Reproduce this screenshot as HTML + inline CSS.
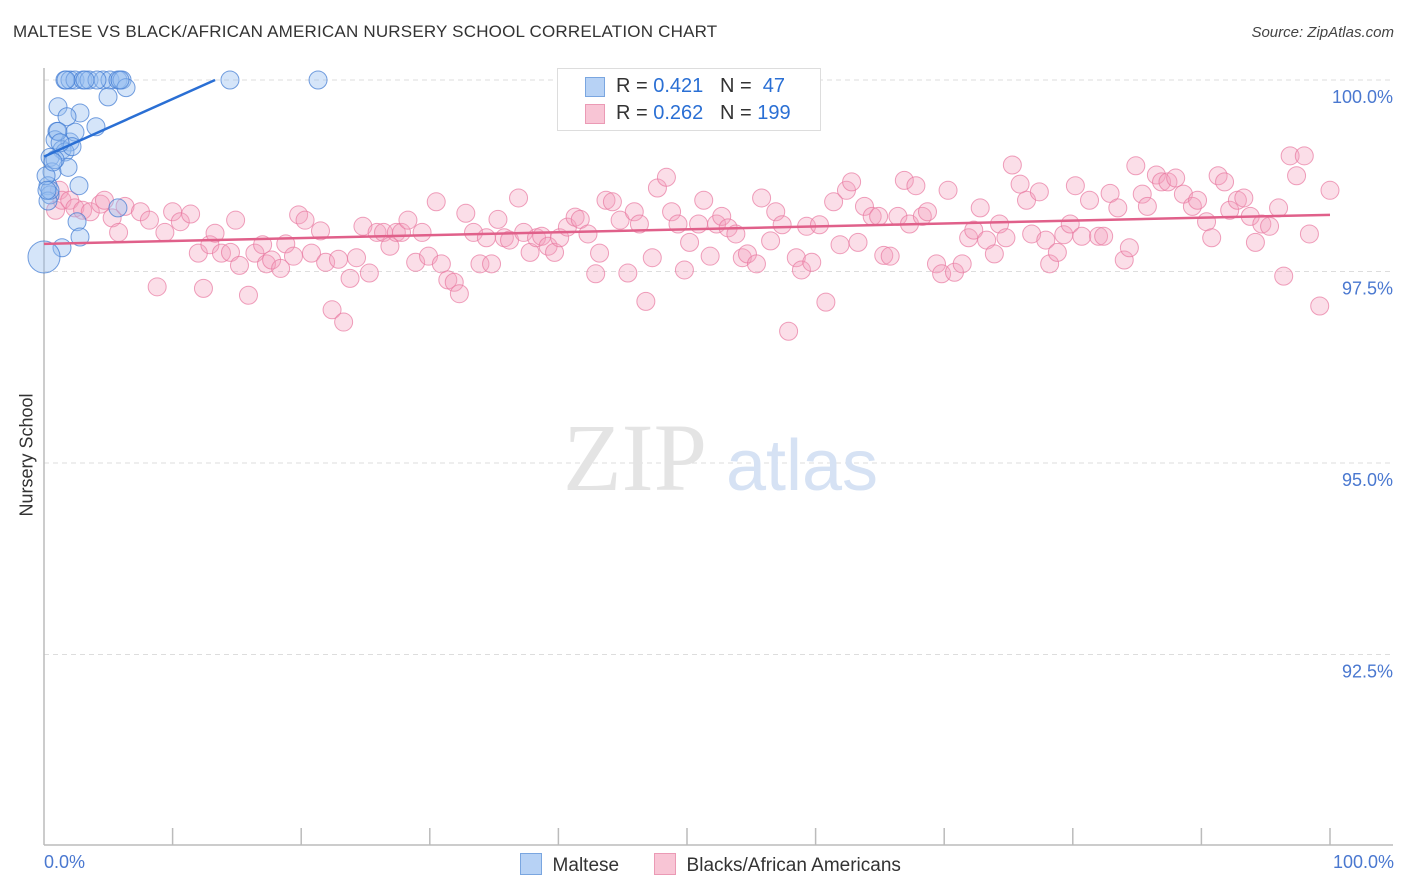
<!DOCTYPE html>
<html><head><meta charset="utf-8"><style>
body{margin:0;background:#fff;font-family:"Liberation Sans",sans-serif;}
#wrap{position:relative;width:1406px;height:892px;overflow:hidden;}
.t{position:absolute;white-space:nowrap;}
</style></head><body>
<div id="wrap">
<div class="t" style="left:13px;top:22px;font-size:17px;color:#333;letter-spacing:0.2px">MALTESE VS BLACK/AFRICAN AMERICAN NURSERY SCHOOL CORRELATION CHART</div>
<div class="t" style="right:12px;top:24px;font-size:15px;color:#444;font-style:italic">Source: ZipAtlas.com</div>
<svg id="svg" width="1406" height="892" style="position:absolute;left:0;top:0"></svg>
</div>
<script>
const blueX=[1.63,2.02,2.41,3.03,3.50,4.59,5.13,5.75,6.07,6.38,4.98,14.46,21.31,1.09,2.80,1.79,4.04,1.01,0.86,2.02,1.40,1.63,0.47,1.87,0.62,0.31,2.72,0.47,0.31,5.75,2.57,2.80,1.40,0.0,0.47,1.09,2.41,0.86,2.18,1.25,0.16,0.23,5.91,1.71,4.12,3.19,0.70];
const blueY=[100,100,100,100,100,100,100,100,100,99.90,99.78,100,100,99.65,99.57,99.52,99.39,99.33,99.22,99.19,99.09,99.06,98.99,98.86,98.80,98.62,98.62,98.50,98.42,98.33,98.15,97.95,97.81,97.69,98.56,99.33,99.32,98.96,99.13,99.18,98.75,98.56,100,100,100,100,98.93];
const blueR=[9,9,9,9,9,9,9,9,9,9,9,9,9,9,9,9,9,9,9,9,9,9,9,9,9,9,9,9,9,9,9,9,9,16,9,9,9,9,9,9,9,9,9,9,9,9,9];
const pinkX=[0.9,1.2,1.4,2.0,2.4,3.0,3.6,4.4,4.7,5.3,5.8,6.3,7.5,8.2,8.8,9.4,10.0,10.6,11.4,12.0,12.4,12.9,13.3,13.8,14.5,14.9,15.2,15.9,16.4,17.0,17.3,17.7,18.4,18.8,19.4,19.8,20.3,20.8,21.5,21.9,22.4,22.9,23.3,23.8,24.3,24.8,25.3,25.9,26.4,26.9,27.4,27.8,28.3,28.9,29.4,29.9,30.5,30.9,31.4,31.9,32.3,32.8,33.4,33.9,34.4,34.8,35.3,35.8,36.2,36.9,37.3,37.8,38.3,38.7,39.2,39.7,40.1,40.7,41.3,41.7,42.3,42.9,43.2,43.7,44.2,44.8,45.4,45.9,46.3,46.8,47.3,47.7,48.4,48.8,49.3,49.8,50.2,50.9,51.3,51.8,52.3,52.7,53.2,53.8,54.3,54.7,55.4,55.8,56.5,56.9,57.4,57.9,58.5,58.9,59.3,59.7,60.3,60.8,61.4,61.9,62.4,62.8,63.3,63.8,64.4,64.9,65.3,65.8,66.4,66.9,67.3,67.8,68.3,68.7,69.4,69.8,70.3,70.8,71.4,71.9,72.3,72.8,73.3,73.9,74.3,74.8,75.3,75.9,76.4,76.8,77.4,77.9,78.2,78.8,79.3,79.8,80.2,80.7,81.3,82.0,82.4,82.9,83.5,84.0,84.4,84.9,85.4,85.8,86.5,86.9,87.4,88.0,88.6,89.3,89.7,90.4,90.8,91.3,91.8,92.2,92.8,93.3,93.8,94.2,94.7,95.3,96.0,96.4,96.9,97.4,98.0,98.4,99.2,100.0];
const pinkY=[98.30,98.56,98.43,98.43,98.33,98.30,98.28,98.38,98.43,98.20,98.01,98.35,98.28,98.17,97.30,98.01,98.28,98.15,98.25,97.74,97.28,97.85,98.00,97.74,97.75,98.17,97.58,97.19,97.74,97.85,97.60,97.65,97.54,97.86,97.70,98.24,98.17,97.74,98.03,97.62,97.00,97.66,96.84,97.41,97.68,98.09,97.48,98.01,98.01,97.83,98.01,98.01,98.17,97.62,98.01,97.70,98.41,97.60,97.39,97.36,97.21,98.26,98.01,97.60,97.94,97.60,98.18,97.94,97.91,98.46,98.01,97.75,97.94,97.96,97.83,97.75,97.94,98.08,98.21,98.18,97.99,97.47,97.74,98.43,98.41,98.17,97.48,98.28,98.12,97.11,97.68,98.59,98.73,98.28,98.12,97.52,97.88,98.12,98.43,97.70,98.12,98.22,98.07,97.99,97.68,97.73,97.60,98.46,97.90,98.28,98.11,96.72,97.68,97.52,98.09,97.62,98.11,97.10,98.41,97.85,98.56,98.67,97.88,98.35,98.22,98.22,97.71,97.70,98.22,98.69,98.12,98.62,98.22,98.28,97.60,97.47,98.56,97.49,97.60,97.94,98.04,98.33,97.91,97.73,98.12,97.94,98.89,98.64,98.43,97.99,98.54,97.91,97.60,97.75,97.98,98.12,98.62,97.96,98.43,97.96,97.96,98.52,98.33,97.65,97.81,98.88,98.51,98.35,98.76,98.67,98.67,98.72,98.51,98.35,98.43,98.15,97.94,98.75,98.67,98.30,98.43,98.46,98.22,97.88,98.12,98.09,98.33,97.44,99.01,98.75,99.01,97.99,97.05,98.56];
const blueTrendX=[0,13.3];
const blueTrendY=[99.0,100.0];
const pinkTrendX=[0,100];
const pinkTrendY=[97.86,98.24];
const yTicks=[100,97.5,95,92.5];
const yTickLabels=["100.0%","97.5%","95.0%","92.5%"];

const NS="http://www.w3.org/2000/svg";
const svg=document.getElementById('svg');
const X0=44,X1=1330,YTOP=80,PXPER=76.6;
function sx(v){return X0+(v/100)*(X1-X0);}
function sy(v){return YTOP+(100-v)*PXPER;}
function mk(tag,attrs){const e=document.createElementNS(NS,tag);for(const k in attrs)e.setAttribute(k,attrs[k]);svg.appendChild(e);return e;}

// gridlines & y labels
yTicks.forEach((t,i)=>{
  const g=mk('line',{x1:X0,x2:1393,y1:sy(t),y2:sy(t),stroke:'#ddd','stroke-dasharray':'5,4','stroke-width':1});
  
  
  const tx=mk('text',{x:1393,y:sy(t)+23,'text-anchor':'end','font-size':18,fill:'#4a78d0','font-family':'Liberation Sans, sans-serif'});
  tx.textContent=yTickLabels[i];
  
  
});
// axes
const ax=mk('line',{x1:X0,x2:X0,y1:68,y2:845,stroke:'#bbb','stroke-width':1.5});


const bx=mk('line',{x1:X0,x2:1393,y1:845,y2:845,stroke:'#bbb','stroke-width':1.5});


for(let i=1;i<=10;i++){
  const tk=mk('line',{x1:sx(i*10),x2:sx(i*10),y1:828,y2:845,stroke:'#bbb','stroke-width':1.5});
  
  
}
// watermark
const w1=mk('text',{x:635,y:490,'text-anchor':'middle','font-size':96,fill:'#e4e4e4','font-family':'Liberation Serif, serif'});
w1.textContent='ZIP';


const w2=mk('text',{x:802,y:490,'text-anchor':'middle','font-size':72,fill:'#d6e2f4','font-family':'Liberation Sans, sans-serif'});
w2.textContent='atlas';



// pink points
pinkX.forEach((x,i)=>{
  const c=mk('circle',{cx:sx(x),cy:sy(pinkY[i]),r:9,fill:'rgba(244,160,190,0.35)',stroke:'rgba(232,120,160,0.7)','stroke-width':1});
  
  
});
// blue points
blueX.forEach((x,i)=>{
  const c=mk('circle',{cx:sx(x),cy:sy(blueY[i]),r:blueR[i],fill:'rgba(150,190,240,0.4)',stroke:'rgba(60,120,210,0.7)','stroke-width':1});
  
  
});
// trends
const pt=mk('line',{x1:sx(pinkTrendX[0]),y1:sy(pinkTrendY[0]),x2:sx(pinkTrendX[1]),y2:sy(pinkTrendY[1]),stroke:'#e0608a','stroke-width':2.5});


const bt=mk('line',{x1:sx(blueTrendX[0]),y1:sy(blueTrendY[0]),x2:sx(blueTrendX[1]),y2:sy(blueTrendY[1]),stroke:'#2a6fd4','stroke-width':2.5});


</script>
<div class="t" style="left:27px;top:455px;transform:translate(-50%,-50%) rotate(-90deg);font-size:18px;color:#333">Nursery School</div>
<div class="t" style="left:44px;top:852px;font-size:18px;color:#4a78d0">0.0%</div>
<div class="t" style="right:12px;top:852px;font-size:18px;color:#4a78d0">100.0%</div>
<div style="position:absolute;left:557px;top:68px;width:262px;height:61px;border:1px solid #ddd;background:#fff;font-size:20px;color:#333">
  <div style="position:absolute;left:27px;top:8px;width:18px;height:18px;background:#b7d2f5;border:1px solid #7aa6e0"></div>
  <div class="t" style="left:58px;top:6px">R = <span style="color:#2a6fd4">0.421</span>&nbsp;&nbsp;&nbsp;N = &nbsp;<span style="color:#2a6fd4">47</span></div>
  <div style="position:absolute;left:27px;top:35px;width:18px;height:18px;background:#f8c5d5;border:1px solid #eb9ab5"></div>
  <div class="t" style="left:58px;top:33px">R = <span style="color:#2a6fd4">0.262</span>&nbsp;&nbsp;&nbsp;N = <span style="color:#2a6fd4">199</span></div>
</div>
<div style="position:absolute;left:520px;top:853px;height:22px;font-size:19px;color:#333">
  <div style="position:absolute;left:0;top:0;white-space:nowrap"><span style="display:inline-block;width:20px;height:20px;background:#b7d2f5;border:1px solid #7aa6e0;vertical-align:-4px"></span>&nbsp; Maltese</div>
  <div style="position:absolute;left:134px;top:0;white-space:nowrap"><span style="display:inline-block;width:20px;height:20px;background:#f8c5d5;border:1px solid #eb9ab5;vertical-align:-4px"></span>&nbsp; Blacks/African Americans</div>
</div>
</body></html>
